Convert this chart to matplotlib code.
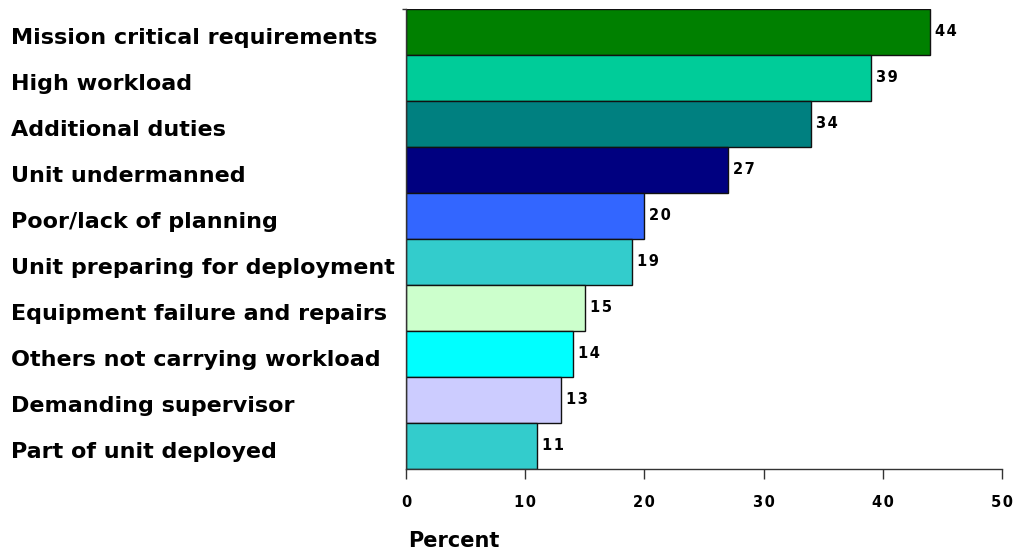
import matplotlib
matplotlib.use('Agg')
import matplotlib.pyplot as plt
import matplotlib.transforms as mtransforms

# Dados do gráfico
categories = ['Mission critical requirements', 'High workload', 'Additional duties',
              'Unit undermanned', 'Poor/lack of planning', 'Unit preparing for deployment',
              'Equipment failure and repairs', 'Others not carrying workload',
              'Demanding supervisor', 'Part of unit deployed']
values = [44, 39, 34, 27, 20, 19, 15, 14, 13, 11]
colors = ['#008000', '#00CC99', '#008080', '#000080', '#3366FF',
          '#33CCCC', '#CCFFCC', '#00FFFF', '#CCCCFF', '#33CCCC']
x_ticks = [0, 10, 20, 30, 40, 50]

plt.rcParams['font.family'] = ['DejaVu Sans']
plt.rcParams['font.weight'] = 'bold'


def spaced(n):
    # Dígitos levemente espaçados, como no original
    return '\u200a'.join(str(n))


fig = plt.figure(figsize=(10.19, 5.53), dpi=100)
ax = fig.add_axes([406 / 1019, 1 - 469 / 553, 596 / 1019, 460 / 553])

pos = list(range(len(categories)))
ax.barh(pos, values, height=1.0, color=colors, edgecolor='#111111', linewidth=1.0)

# Rótulos de valor
for y, v in zip(pos, values):
    ax.text(v + 0.4, y, spaced(v), va='center', ha='left', fontsize=10.5, fontweight='bold')

ax.set_xlim(0, 50)
ax.set_ylim(len(categories) - 0.5, -0.5)

ax.set_xticks(x_ticks)
ax.set_xticklabels([spaced(t) for t in x_ticks], fontsize=10.5, fontweight='bold')
ax.tick_params(axis='x', direction='out', length=7, width=1, color='#333333', pad=12)

ax.set_yticks(pos)
ax.set_yticklabels(categories, fontsize=16, fontweight='bold', ha='left')
ax.tick_params(axis='y', length=0, pad=0)
offset = mtransforms.ScaledTranslation(-395 / 100, -4 / 100, fig.dpi_scale_trans)
for lbl in ax.get_yticklabels():
    lbl.set_transform(lbl.get_transform() + offset)

# Pequena marca no topo do eixo y
ax.set_yticks([-0.5], minor=True)
ax.tick_params(axis='y', which='minor', length=3, width=1, color='#333333')

for side in ['top', 'right']:
    ax.spines[side].set_visible(False)
for side in ['left', 'bottom']:
    ax.spines[side].set_color('#333333')
    ax.spines[side].set_linewidth(1.0)

fig.text(408 / 1019, 1 - 547 / 553, 'Percent', ha='left', va='baseline',
         fontsize=15, fontweight='bold')

fig.savefig('out.png', dpi=100)
